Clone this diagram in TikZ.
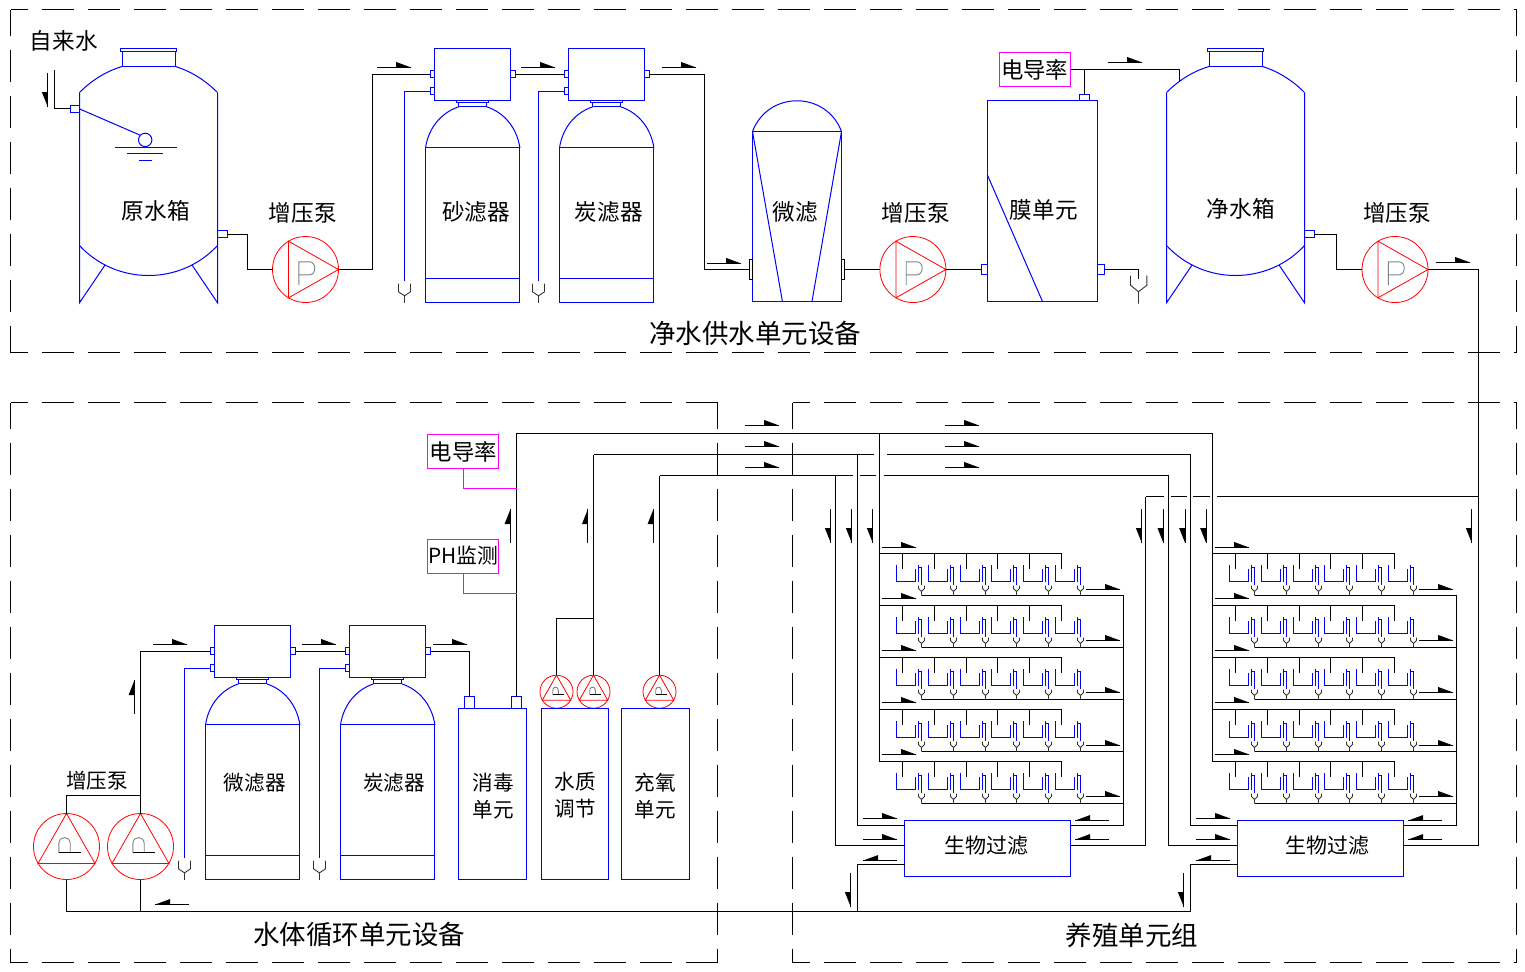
\documentclass[tikz,border=0pt]{standalone}
\usepackage{fontspec}
\setmainfont{Noto Sans CJK SC}
\definecolor{SensorPink}{RGB}{255,0,255}
\definecolor{PureBlue}{RGB}{0,0,255}
\definecolor{PureRed}{RGB}{255,0,0}

\begin{document}
\begin{tikzpicture}[x=0.5pt,y=-0.5pt]
\useasboundingbox (-0.2,-0.2) rectangle (1524.8,970.8);

\tikzset{
 PipeStyle/.style = {black, line width=0.5pt},
 BlueStyle/.style = {PureBlue, line width=0.5pt},
 RedStyle/.style = {PureRed, line width=0.4pt},
 PinkStyle/.style = {SensorPink, line width=0.5pt},
 FrameStyle/.style = {black, line width=0.5pt, dash pattern=on 16pt off 7pt},
 LabelStyle/.style = {inner sep=0pt, font=\fontsize{11.3pt}{13.5pt}\selectfont, align=center},
 SmallLabelStyle/.style = {inner sep=0pt, font=\fontsize{10.3pt}{13.5pt}\selectfont, align=center},
 BigLabelStyle/.style = {inner sep=0pt, font=\fontsize{13.25pt}{15pt}\selectfont},
 SensorStyle/.style = {draw=SensorPink, line width=0.5pt, inner sep=0pt, minimum width=35.7pt, minimum height=17pt, font=\fontsize{11.2pt}{13pt}\selectfont},
 BioStyle/.style = {draw=PureBlue, line width=0.5pt, inner sep=0pt, minimum width=83pt, minimum height=28pt},
 pics/FlowRight/.style = {code={
  \draw[PipeStyle] (0,0) -- (34,0);
  \fill (19,0) -- (19,-5.5) -- (34,0) -- cycle;}},
 pics/FlowLeft/.style = {code={
  \draw[PipeStyle] (0,0) -- (34,0);
  \fill (15,0) -- (15,-5.5) -- (0,0) -- cycle;}},
 pics/FlowDown/.style = {code={
  \draw[PipeStyle] (0,0) -- (0,34);
  \fill (0,19) -- (-6,19) -- (0,34) -- cycle;}},
 pics/FlowUp/.style = {code={
  \draw[PipeStyle] (0,0) -- (0,34);
  \fill (0,15) -- (-6,15) -- (0,0) -- cycle;}},
 pics/Funnel/.style = {code={
  \draw[black!80, line width=0.45pt] (-6,0) -- (-6,8.3) -- (0,12.3) -- (6,8.3) -- (6,0) (0,12.3) -- (0,19.3);}},
 pics/Tank/.style = {code={
  \draw[BlueStyle] (41,0) rectangle (97,3) (42.5,3) rectangle (96,18);
  \draw[BlueStyle] (0,44) .. controls (12,32) and (26,23) .. (42.5,18);
  \draw[BlueStyle] (96,18) .. controls (112,23) and (126,32) .. (138,44);
  \draw[BlueStyle] (0,44) -- (0,254.3) -- (25.7,216.3) (138,44) -- (138,254.3) -- (112.4,216.3);
  \draw[BlueStyle] (0,197) .. controls (37,237) and (101,237) .. (138,197);
  \draw[BlueStyle] (138,182) rectangle (147.5,189);
  \coordinate (-out) at (147.5,186);
  \coordinate (-top) at (13,32.7);}},
 pics/Softener/.style = {code={
  \draw[BlueStyle] (9,0) rectangle (85.4,52.4);
  \draw[BlueStyle] (4.7,21.7) rectangle (9,29.4) (4.7,38.7) rectangle (9,46.4) (85.4,21.7) rectangle (90.4,29.4);
  \draw[BlueStyle] (31,52.4) rectangle (63.4,54.4) (33,54.4) rectangle (61.4,58.4);
  \draw[BlueStyle] (0,99.4) .. controls (3,79) and (16,64) .. (33,58.4);
  \draw[BlueStyle] (61.4,58.4) .. controls (78.4,64) and (91.4,79) .. (94.4,99.4);
  \draw[BlueStyle] (0,99.4) rectangle (94.4,254) (0,230) -- (94.4,230);
  \draw[BlueStyle] (4.7,42.7) -- (-21,42.7) -- (-21,232);
  \pic at (-21,235) {Funnel};
  \coordinate (-in) at (4.7,26);
  \coordinate (-out) at (90.4,26);}},
 pics/PumpRight/.style = {code={
  \draw[RedStyle] (0,0) circle [radius=33];
  \draw[RedStyle] (-17,-28.3) -- (33,0) -- (-17,28.3) -- cycle;
  \draw[gray, line width=0.45pt] (-6.7,15.7) -- (-6.7,-7.7) -- (4,-7.7) .. controls (11,-7.7) and (11,5.3) .. (4,5.3) -- (-6.7,5.3);
  \coordinate (-w) at (-33,0);
  \coordinate (-e) at (33,0);}},
 pics/PumpUp/.style = {code={
  \draw[RedStyle] (0,0) circle [radius=33];
  \draw[RedStyle] (0,-33) -- (28.5,17) -- (-28.5,17) -- cycle;
  \draw[gray, line width=0.45pt] (-7.6,6) -- (-7.6,-3) .. controls (-7.6,-11) and (3.7,-11) .. (3.7,-3) -- (3.7,6);
  \draw[PipeStyle] (-7.6,6) -- (14.7,6);
  \coordinate (-n) at (0,-33);
  \coordinate (-s) at (0,33);}},
 pics/CultureUnit/.style = {code={
  \draw[PipeStyle] (0,0) -- (0,15.7);
  \draw[BlueStyle] (-6,11.7) -- (-6,28) -- (13,28) -- (13,15.7);
  \draw[BlueStyle] (16,11.7) -- (16,28) (16,14) -- (19,14) -- (19,31);
  \draw[black!80, line width=0.45pt] (16,32) -- (16,35) -- (19,38) -- (22,35) -- (22,32) (19,38) -- (19,42);}}
}

\foreach \xa/\ya/\xb/\yb in {10.3/9.3/1516.3/352.3, 10.3/402.3/717.3/962.3, 792.3/402.3/1516.3/962.3}
{
 \draw[FrameStyle, dash phase=7.5pt] (\xa,\ya) -- (\xb,\ya) (\xa,\yb) -- (\xb,\yb);
 \draw[FrameStyle, dash phase=3pt] (\xa,\ya) -- (\xa,\yb) (\xb,\ya) -- (\xb,\yb);
}

\pic (RawTank) at (79.3,48.3) {Tank};
\pic (ClearTank) at (1166.3,48.3) {Tank};
\pic (SandA) at (425.3,48.3) {Softener};
\pic (CarbonA) at (559.3,48.3) {Softener};
\pic (MicroB) at (205.3,625.3) {Softener};
\pic (CarbonB) at (340.3,625.3) {Softener};
\pic (PumpA) at (305.3,269.3) {PumpRight};
\pic (PumpB) at (912.7,269.3) {PumpRight};
\pic (PumpE) at (1394.8,269.3) {PumpRight};
\pic (PumpC) at (66.3,846.3) {PumpUp};
\pic (PumpD) at (140.3,846.3) {PumpUp};
\pic[scale=0.5] (DoseA) at (556.3,691.5) {PumpUp};
\pic[scale=0.5] (DoseB) at (593.3,691.5) {PumpUp};
\pic[scale=0.5] (DoseC) at (659.3,691.5) {PumpUp};

\draw[BlueStyle] (70,105.3) rectangle (79.3,112.7);
\draw[BlueStyle] (79.3,108.7) -- (140,135);
\draw[BlueStyle] (145,139.7) circle [radius=6.7];
\draw[BlueStyle] (115,147) -- (177,147) (127,153.3) -- (163,153.3) (139,160.3) -- (152,160.3);

\draw[BlueStyle] (752.3,131.3) rectangle (841.3,301.7);
\draw[BlueStyle] (752.3,131.3) .. controls (767.8,90.3) and (825.8,90.3) .. (841.3,131.3);
\draw[BlueStyle] (752.3,131.3) -- (782.3,301.7) (841.3,131.3) -- (811.7,301.7);
\draw[PipeStyle] (749.3,259.3) rectangle (752.3,279.3) (841.3,259.3) rectangle (844.7,279.3);

\draw[BlueStyle] (987.3,100.3) rectangle (1097.3,301.3);
\draw[BlueStyle] (987.3,175) -- (1042.3,301.3);
\draw[BlueStyle] (1079.3,94.3) rectangle (1089.3,100.3);
\draw[BlueStyle] (981.3,264.3) rectangle (987.3,274.7) (1097.3,264.3) rectangle (1104.7,274.7);
\draw[black!80, line width=0.45pt] (1130.3,275.3) -- (1130.3,285) -- (1138.3,291.5) -- (1146.7,285) -- (1146.7,275.3) (1138.3,291.5) -- (1138.3,303.3);

\draw[BlueStyle] (458.3,708.3) rectangle (526.7,879.3);
\draw[BlueStyle] (541.3,708.3) rectangle (608.7,879.3);
\draw[BlueStyle] (621.3,708.3) rectangle (689.3,879.3);
\draw[BlueStyle] (464.3,696.3) rectangle (474.3,708.3) (511.3,696.3) rectangle (521.3,708.3);

\coordinate (RawIn) at (54.3,69.3);
\coordinate (RawValve) at (70,108.3);
\coordinate (MicroIn) at (749.3,269.3);
\coordinate (MicroOut) at (844.7,269.3);
\coordinate (MemIn) at (981.3,269.3);
\coordinate (MemOut) at (1104.7,269.3);
\coordinate (MemDrain) at (1138.3,279);
\coordinate (MemTop) at (1084.3,94.3);
\coordinate (DisIn) at (469.3,696.3);
\coordinate (DisOut) at (516.3,696.3);
\coordinate (MainB) at (1212.3,433.3);
\coordinate (DoseLineB) at (593.3,454.3);
\coordinate (DoseLineC) at (659.3,475.3);
\coordinate (RetA) at (857.3,911.3);
\coordinate (RetB) at (1190.3,911.3);

\node[SensorStyle] (TopSensor) at (1034.5,69.3) {电导率};
\node[SensorStyle] (CondSensor) at (463,451.3) {电导率};
\node[SensorStyle, font=\fontsize{10.4pt}{13pt}\selectfont] (PhSensor) at (463,555.8) {PH监测};

\draw[PipeStyle] (RawValve) -| (RawIn);
\draw[PipeStyle] (RawTank-out) -- ++(20.5,0) |- (PumpA-w);
\draw[PipeStyle] (PumpA-e) -- ++(34,0) |- (SandA-in);
\draw[PipeStyle] (SandA-out) -- (CarbonA-in);
\draw[PipeStyle] (CarbonA-out) -- ++(54.6,0) |- (MicroIn);
\draw[PipeStyle] (MicroOut) -- (PumpB-w);
\draw[PipeStyle] (PumpB-e) -- (MemIn);
\draw[PipeStyle] (MemOut) -| (MemDrain);
\draw[PipeStyle] (MemTop) |- (TopSensor.east);
\draw[PipeStyle] (TopSensor.east) -| (ClearTank-top);
\draw[PipeStyle] (ClearTank-out) -- ++(22.6,0) |- (PumpE-w);

\draw[PipeStyle] (PumpC-n) |- (PumpD-n |- 0,795.3);
\draw[PipeStyle] (PumpD-n) |- (MicroB-in);
\draw[PipeStyle] (MicroB-out) -- (CarbonB-in);
\draw[PipeStyle] (CarbonB-out) -| (DisIn);
\draw[PipeStyle] (DisOut) |- (MainB);
\draw[PipeStyle] (DoseA-n) |- (DoseB-n |- 0,618.3);
\draw[PipeStyle] (DoseB-n) -- (DoseLineB);
\draw[PipeStyle] (DoseC-n) -- (DoseLineC);
\draw[PipeStyle] (PumpC-s) |- (RetB);
\draw[PipeStyle] (PumpD-s) -- (PumpD-s |- RetB);
\draw[PinkStyle] (CondSensor.south) |- (DisOut |- 0,488.3);
\draw[PinkStyle] (PhSensor.south) |- (DisOut |- 0,593.3);

\draw[PipeStyle] (DoseLineB) -- (874,454.3) (887,454.3) -- (1190.3,454.3);
\draw[PipeStyle] (DoseLineC) -- (853,475.3) (860,475.3) -- (876,475.3) (884,475.3) -- (1168.3,475.3);
\draw[PipeStyle] (1145.3,496.3) -- (1164,496.3) (1171,496.3) -- (1187,496.3) (1193,496.3) -- (1210,496.3) (1217,496.3) -- (1478.3,496.3);

\foreach \bx/\nm/\tx in {0/A/986.5,333/B/1327}
{
 \node[BioStyle] (Bio\nm) at (\bx+987.3,848.3) {};
 \node[SmallLabelStyle, font=\fontsize{10.5pt}{13pt}\selectfont] (BioLabel\nm) at (\tx,845) {生物过滤};
 \coordinate (Bio\nm-wa) at (\bx+904.3,825.3);
 \coordinate (Bio\nm-wb) at (\bx+904.3,845.3);
 \coordinate (Bio\nm-wc) at (\bx+904.3,864.3);
 \coordinate (Bio\nm-ea) at (\bx+1070.3,825.3);
 \coordinate (Bio\nm-eb) at (\bx+1070.3,845.3);
 \coordinate (Feed\nm) at (\bx+879.3,433.3);
 \coordinate (LineB\nm) at (\bx+857.3,454.3);
 \coordinate (LineC\nm) at (\bx+835.3,475.3);
 \coordinate (LineD\nm) at (\bx+1145.3,496.3);
 \draw[PipeStyle] (Feed\nm) -- (\bx+879.3,761.3);
 \draw[PipeStyle] (LineB\nm) |- (Bio\nm-wa);
 \draw[PipeStyle] (LineC\nm) |- (Bio\nm-wb);
 \draw[PipeStyle] (Bio\nm-ea) -| (\bx+1123.3,595.3);
 \draw[PipeStyle] (Bio\nm-eb) -| (LineD\nm);
 \draw[PipeStyle] (Bio\nm-wc) -| (Ret\nm);
 \foreach \ry in {0,52,104,156,208}
 {
  \draw[PipeStyle] (\bx+879.3,553.3+\ry) -- (\bx+1061.7,553.3+\ry);
  \draw[PipeStyle] (\bx+921.3,595.3+\ry) -- (\bx+1123.3,595.3+\ry);
  \foreach \sx in {902.3,934.3,966.3,997.3,1029.3,1061.3}
   \pic at (\bx+\sx,553.3+\ry) {CultureUnit};
 }
 \foreach \ay in {547.3,598.3,650.3,702.3,754.3}
  \pic at (\bx+882,\ay) {FlowRight};
 \foreach \ay in {589.3,640.3,692.3,745.3,796.3}
  \pic at (\bx+1086,\ay) {FlowRight};
 \foreach \ay in {818.3,839.3}
  \pic at (\bx+863,\ay) {FlowRight};
 \foreach \ay in {820.3,839.3}
  \pic at (\bx+1075,\ay) {FlowLeft};
 \pic at (\bx+863,860.3) {FlowLeft};
 \pic at (\bx+850.7,873) {FlowDown};
}
\draw[PipeStyle] (PumpE-e) -| (LineDB);

\foreach \ax/\ay in {377/67.3,521/67.3,662/67.3,707/263.3,1108/62.3,1436/262.3,153/644.3,302/644.3,433/644.3,745/425.3,745/446.3,745/467.3,945/425.3,945/446.3,945/467.3}
 \pic at (\ax,\ay) {FlowRight};
\pic at (155,904.3) {FlowLeft};
\foreach \ax/\ay in {47.7/73,830.7/509,851.7/509,872.7/509,1141.7/509,1163.3/509,1185/509,1206/509,1471.7/509}
 \pic at (\ax,\ay) {FlowDown};
\foreach \ax/\ay in {510.3/509,587.7/509,653.3/509,134.3/680}
 \pic at (\ax,\ay) {FlowUp};

\node[LabelStyle] (TapLabel) at (63.5,41) {自来水};
\node[LabelStyle] (RawLabel) at (155.5,211) {原水箱};
\node[LabelStyle] (PumpALabel) at (302.5,213) {增压泵};
\node[LabelStyle] (SandLabel) at (476,212) {砂滤器};
\node[LabelStyle] (CarbonALabel) at (608.5,212) {炭滤器};
\node[LabelStyle] (MicroALabel) at (795,212) {微滤};
\node[LabelStyle] (PumpBLabel) at (915.5,213) {增压泵};
\node[LabelStyle] (MemLabel) at (1043.5,210) {膜单元};
\node[LabelStyle] (ClearLabel) at (1240.5,209) {净水箱};
\node[LabelStyle] (PumpELabel) at (1397,213) {增压泵};
\node[SmallLabelStyle] (PumpCLabel) at (97,780) {增压泵};
\node[SmallLabelStyle] (MicroBLabel) at (254.5,783) {微滤器};
\node[SmallLabelStyle] (CarbonBLabel) at (394,782) {炭滤器};
\node[SmallLabelStyle] (DisLabel) at (493,795.5) {消毒\\单元};
\node[SmallLabelStyle] (QualityLabel) at (575,795) {水质\\调节};
\node[SmallLabelStyle] (OxyLabel) at (655,795.5) {充氧\\单元};
\node[BigLabelStyle] (SupplyLabel) at (755,333) {净水供水单元设备};
\node[BigLabelStyle] (LoopLabel) at (359,934) {水体循环单元设备};
\node[BigLabelStyle] (BreedLabel) at (1132,935) {养殖单元组};

\end{tikzpicture}
\end{document}
